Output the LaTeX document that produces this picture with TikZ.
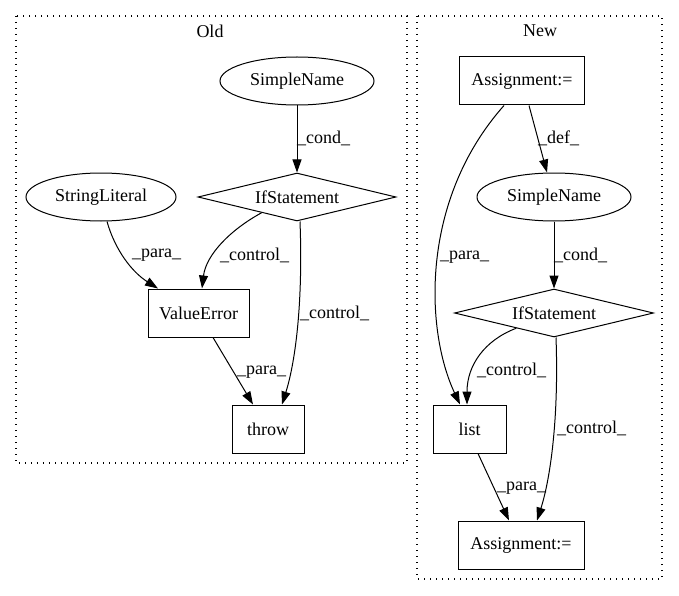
\documentclass[tikz,border=0pt]{standalone}
\usepackage{fontspec}
\setmainfont{Liberation Serif}
\usetikzlibrary{shapes.geometric,arrows.meta}
\tikzset{
  every node/.style={font=\fontsize{18}{21}\selectfont},
  box/.style={draw, line width=1pt, minimum height=48pt, inner sep=0pt},
  ell/.style={draw, ellipse, line width=1pt, minimum width=154pt, minimum height=48pt, inner sep=0pt},
  dia/.style={draw, diamond, line width=1pt, minimum width=198pt, minimum height=48pt, inner sep=0pt, aspect=4.125},
  conn/.style={-{Triangle[length=13pt,width=9pt]}, line width=1pt},
  lbl/.style={anchor=west, inner sep=0pt},
  cluster/.style={draw, dash pattern=on 1.3pt off 4.7pt, line width=1.2pt},
  ctitle/.style={inner sep=0pt}
}
\begin{document}
\begin{tikzpicture}[x=1pt,y=-1pt]
\useasboundingbox (0,0) rectangle (679,596);
% clusters
\draw[cluster] (16,16) rectangle (407,463);
\node[ctitle] (oldt) at (210,31) {Old};
\draw[cluster] (417,16) rectangle (662,579);
\node[ctitle] (newt) at (540,31) {New};

% Old nodes
\node[ell] (sn1) at (297,81) {SimpleName};
\node[dia] (if1) at (297,197) {IfStatement};
\node[ell, minimum width=150pt] (sl) at (101,197) {StringLiteral};
\node[box, minimum width=101pt] (ve) at (198.5,313) {ValueError};
\node[box, minimum width=72pt] (th) at (268,429) {throw};

% Old edges
\draw[conn] (sn1.south) -- (if1.north);
\draw[conn] ([xshift=6pt]sl.south) .. controls (115,250) and (132,272) .. ([xshift=-40.5pt]ve.north);
\draw[conn] (if1.204) .. controls (230,230) and (206,255) .. ([xshift=3.5pt]ve.north);
\draw[conn] ([xshift=3pt]if1.south) .. controls (303,300) and (296,360) .. ([xshift=14pt]th.north);
\draw[conn] ([xshift=14.5pt]ve.south) -- ([xshift=-15pt]th.north);

\node[lbl] (l1) at (297,138) {\_cond\_};
\node[lbl] (l2) at (132,255) {\_para\_};
\node[lbl] (l3) at (220,255) {\_control\_};
\node[lbl] (l4) at (300,313) {\_control\_};
\node[lbl] (l5) at (237,372) {\_para\_};

% New nodes
\node[box, minimum width=125pt] (a1) at (522,81) {Assignment:=};
\node[ell] (sn2) at (554,197) {SimpleName};
\node[dia, minimum width=199pt] (if2) at (554,313) {IfStatement};
\node[box, minimum width=73pt] (li) at (469.5,429) {list};
\node[box, minimum width=126pt] (a2) at (521,545) {Assignment:=};

% New edges
\draw[conn] ([xshift=7pt]a1.south) -- ([xshift=-7pt]sn2.north);
\draw[conn] ([xshift=-18pt]a1.south) .. controls (420,200) and (425,330) .. ([xshift=-9.5pt]li.north);
\draw[conn] (sn2.south) -- (if2.north);
\draw[conn] (if2.202) .. controls (485,340) and (467,365) .. ([xshift=-2.5pt]li.north);
\draw[conn] ([xshift=2pt]if2.south) .. controls (559,420) and (550,480) .. ([xshift=16pt]a2.north);
\draw[conn] ([xshift=8.5pt]li.south) -- ([xshift=-12pt]a2.north);

\node[lbl] (m1) at (538,138) {\_def\_};
\node[lbl] (m2) at (440,257) {\_para\_};
\node[lbl] (m3) at (554,255) {\_cond\_};
\node[lbl] (m4) at (477,370) {\_control\_};
\node[lbl] (m5) at (557,428) {\_control\_};
\node[lbl] (m6) at (497,488) {\_para\_};
\end{tikzpicture}
\end{document}
